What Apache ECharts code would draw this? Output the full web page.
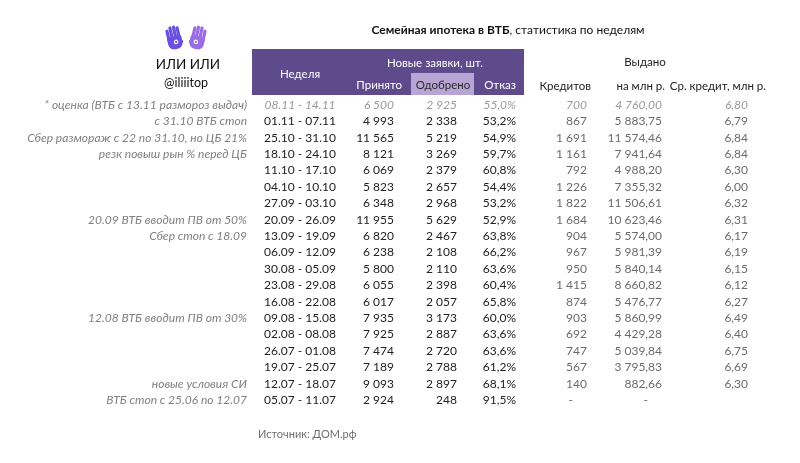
<!DOCTYPE html>
<html><head><meta charset="utf-8">
<script src="https://cdn.jsdelivr.net/npm/echarts@6/dist/echarts.min.js"></script>
<style>html,body{margin:0;padding:0;background:#fff}#c{width:800px;height:463px}</style>
</head><body><div id="c"></div>
<script>
const weeks = ['08.11 - 14.11','01.11 - 07.11','25.10 - 31.10','18.10 - 24.10','11.10 - 17.10','04.10 - 10.10','27.09 - 03.10','20.09 - 26.09','13.09 - 19.09','06.09 - 12.09','30.08 - 05.09','23.08 - 29.08','16.08 - 22.08','09.08 - 15.08','02.08 - 08.08','26.07 - 01.08','19.07 - 25.07','12.07 - 18.07','05.07 - 11.07'];
const accepted = ['6 500','4 993','11 565','8 121','6 069','5 823','6 348','11 955','6 820','6 238','5 800','6 055','6 017','7 935','7 925','7 474','7 189','9 093','2 924'];
const approved = ['2 925','2 338','5 219','3 269','2 379','2 657','2 968','5 629','2 467','2 108','2 110','2 398','2 057','3 173','2 887','2 720','2 788','2 897','248'];
const refusal = ['55,0%','53,2%','54,9%','59,7%','60,8%','54,4%','53,2%','52,9%','63,8%','66,2%','63,6%','60,4%','65,8%','60,0%','63,6%','63,6%','61,2%','68,1%','91,5%'];
const credits = ['700','867','1 691','1 161','792','1 226','1 822','1 684','904','967','950','1 415','874','903','692','747','567','140','-'];
const amountMln = ['4 760,00','5 883,75','11 574,46','7 941,64','4 988,20','7 355,32','11 506,61','10 623,46','5 574,00','5 981,39','5 840,14','8 660,82','5 476,77','5 860,99','4 429,28','5 039,84','3 795,83','882,66','-'];
const avgCredit = ['6,80','6,79','6,84','6,84','6,30','6,00','6,32','6,31','6,17','6,19','6,15','6,12','6,27','6,49','6,40','6,75','6,69','6,30',''];
const notes = ['* оценка (ВТБ с 13.11 размороз выдач)','с 31.10 ВТБ стоп','Сбер размораж с 22 по 31.10, но ЦБ 21%','резк повыш рын % перед ЦБ','','','','20.09 ВТБ вводит ПВ от 50%','Сбер стоп с 18.09','','','','','12.08 ВТБ вводит ПВ от 30%','','','','новые условия СИ','ВТБ стоп с 25.06 по 12.07'];

const FONT = 'Lato, "Open Sans", sans-serif';
const HF = '11.5px ' + FONT;
const chart = echarts.init(document.getElementById('c'), null, {renderer:'canvas'});

const columns = [
  {texts: notes, x: 247, align: 'right', kind: 'note'},
  {texts: weeks, x: 300, align: 'center', kind: 'main'},
  {texts: accepted, x: 394, align: 'right', kind: 'main'},
  {texts: approved, x: 457, align: 'right', kind: 'main'},
  {texts: refusal, x: 516, align: 'right', kind: 'main'},
  {texts: credits, x: 587, align: 'right', kind: 'issued'},
  {texts: amountMln, x: 662, align: 'right', kind: 'issued'},
  {texts: avgCredit, x: 748, align: 'right', kind: 'issued'}
];

const series = columns.map(col => ({
  type: 'custom',
  coordinateSystem: 'cartesian2d',
  silent: true,
  data: col.texts.map((t, i) => [col.x, i]),
  renderItem: function (params, api) {
    const i = params.dataIndex;
    const txt = col.texts[i];
    if (!txt) return null;
    const p = api.coord([api.value(0), api.value(1)]);
    let x = p[0];
    if (txt === '-') x -= 14;
    let fill = '#222', style = 'normal';
    if (col.kind === 'note') { fill = '#808080'; style = 'italic'; }
    else if (col.kind === 'issued') { fill = '#6b6b6b'; }
    if (i === 0 && col.kind !== 'note') { fill = '#9a9a9a'; style = 'italic'; }
    return {
      type: 'text',
      x: x, y: p[1],
      style: {
        text: txt,
        textAlign: col.align,
        textVerticalAlign: 'middle',
        font: style + ' 12px ' + FONT,
        fill: fill
      }
    };
  }
}));

function hand(cx, color, mirror) {
  const s = mirror ? -1 : 1;
  const children = [];
  const fx = [-5.6, -2, 1.6, 5.0];
  const fh = [8, 10.5, 10.5, 9];
  fx.forEach((dx, k) => {
    children.push({type:'rect', shape:{x: cx + s*dx - 1.6, y: 41 - fh[k] - 5, width: 3.2, height: fh[k]+6, r: 1.6}, style:{fill: color}});
  });
  children.push({type:'rect', shape:{x: cx + s*7.5 - 1.6, y: 34, width: 3.2, height: 10, r: 1.6}, rotation: s*0.7, originX: cx + s*7.5, originY: 44, style:{fill: color}});
  children.push({type:'rect', shape:{x: cx - 7.3, y: 36, width: 14.6, height: 13, r: [2,2,6,6]}, style:{fill: color}});
  children.push({type:'circle', shape:{cx: cx + s*1, cy: 42, r: 2.3}, style:{fill: '#ffffff'}});
  children.push({type:'circle', shape:{cx: cx + s*1, cy: 42, r: 1.1}, style:{fill: color}});
  return {type:'group', rotation: s*0.22, originX: cx, originY: 46, children: children};
}

const graphics = [
  {type:'text', x: 508, y: 30, style:{text:'{b|Семейная ипотека в ВТБ}{n|, статистика по неделям}', textAlign:'center', textVerticalAlign:'middle',
    rich:{b:{font:'bold 12px '+FONT, fill:'#111'}, n:{font:'12px '+FONT, fill:'#111'}}}},
  hand(176, '#6a4fe0', false),
  hand(196, '#9a6ce6', true),
  {type:'text', x: 188, y: 65, style:{text:'ИЛИ ИЛИ', textAlign:'center', textVerticalAlign:'middle', font:'13.5px '+FONT, fill:'#111'}},
  {type:'text', x: 186, y: 83, style:{text:'@iliiitop', textAlign:'center', textVerticalAlign:'middle', font:'12.5px '+FONT, fill:'#111'}},
  {type:'rect', shape:{x:252, y:49, width:272, height:46}, style:{fill:'#5f4b8b'}},
  {type:'rect', shape:{x:411, y:73, width:63, height:22}, style:{fill:'#b7a5d6'}},
  {type:'text', x: 300, y: 74, style:{text:'Неделя', textAlign:'center', textVerticalAlign:'middle', font:HF, fill:'#fff'}},
  {type:'text', x: 435, y: 63, style:{text:'Новые заявки, шт.', textAlign:'center', textVerticalAlign:'middle', font:HF, fill:'#fff'}},
  {type:'text', x: 402, y: 85, style:{text:'Принято', textAlign:'right', textVerticalAlign:'middle', font:HF, fill:'#fff'}},
  {type:'text', x: 443, y: 85, style:{text:'Одобрено', textAlign:'center', textVerticalAlign:'middle', font:HF, fill:'#2a2a2a'}},
  {type:'text', x: 516, y: 85, style:{text:'Отказ', textAlign:'right', textVerticalAlign:'middle', font:HF, fill:'#fff'}},
  {type:'text', x: 645, y: 62, style:{text:'Выдано', textAlign:'center', textVerticalAlign:'middle', font:HF, fill:'#222'}},
  {type:'text', x: 591, y: 86, style:{text:'Кредитов', textAlign:'right', textVerticalAlign:'middle', font:HF, fill:'#222'}},
  {type:'text', x: 665, y: 86, style:{text:'на млн р.', textAlign:'right', textVerticalAlign:'middle', font:HF, fill:'#222'}},
  {type:'text', x: 766, y: 86, style:{text:'Ср. кредит, млн р.', textAlign:'right', textVerticalAlign:'middle', font:HF, fill:'#222'}},
  {type:'text', x: 258, y: 434, style:{text:'Источник: ДОМ.рф', textAlign:'left', textVerticalAlign:'middle', font:'11px '+FONT, fill:'#6f6f6f'}}
];

chart.setOption({
  animation: false,
  backgroundColor: '#ffffff',
  grid: {left: 0, right: 0, top: 96.8, bottom: 54.6, containLabel: false},
  xAxis: {type:'value', min:0, max:800, show:false},
  yAxis: {type:'category', data: weeks, inverse: true, show:false},
  graphic: graphics,
  series: series
});
</script></body></html>
